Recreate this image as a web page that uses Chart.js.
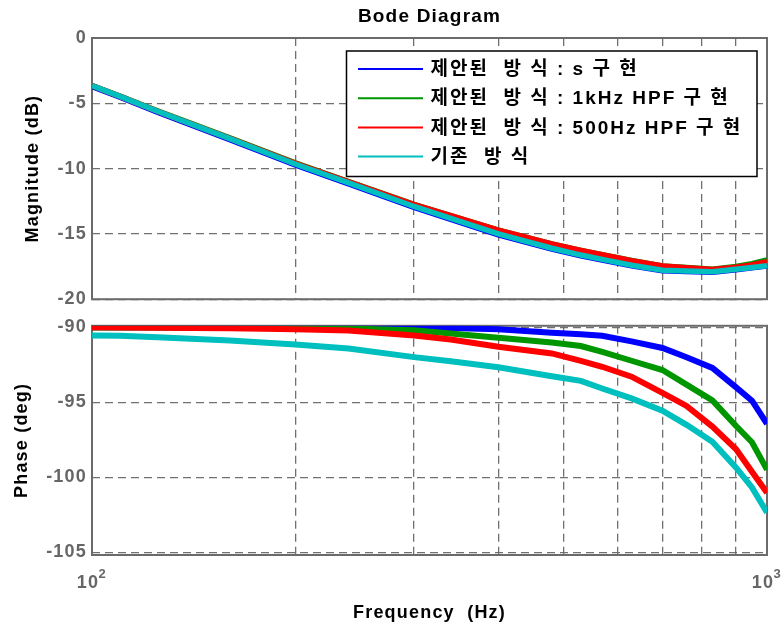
<!DOCTYPE html>
<html>
<head>
<meta charset="utf-8">
<script src="https://cdn.jsdelivr.net/npm/chart.js@4.4.1/dist/chart.umd.min.js"></script>
<style>
  html, body { margin: 0; padding: 0; background: #fff; }
  body { width: 783px; height: 629px; position: relative; overflow: hidden; }
  canvas { position: absolute; left: 0; }
  #mag { top: 0; }
  #phase { top: 310px; }
</style>
</head>
<body>
<canvas id="mag" width="783" height="315"></canvas>
<canvas id="phase" width="783" height="319"></canvas>
<script>
// Frequency grid (Hz) shared by all traces
const freqHz = [100, 110, 125, 160, 200, 240, 300, 340, 400, 480, 530, 570, 630, 700, 760, 830, 900, 950, 1000];

// Legend text for the four implementations
const seriesNames = [
  '제안된  방 식 : s 구 현',
  '제안된  방 식 : 1kHz HPF 구 현',
  '제안된  방 식 : 500Hz HPF 구 현',
  '기존  방 식'
];
const seriesColors = ['#0000ff', '#009600', '#ff0000', '#00bfbf'];

// Magnitude (dB)
const magS     = [-3.71, -4.53, -5.68, -7.78, -9.72, -11.17, -12.97, -13.88, -15.07, -16.17, -16.68, -17.00, -17.44, -17.82, -17.88, -17.93, -17.75, -17.60, -17.46];
const mag1k    = [-3.64, -4.45, -5.58, -7.65, -9.56, -11.00, -12.74, -13.60, -14.72, -15.77, -16.27, -16.60, -17.04, -17.45, -17.58, -17.70, -17.50, -17.28, -17.00];
const mag500   = [-3.65, -4.47, -5.61, -7.69, -9.60, -11.02, -12.75, -13.61, -14.72, -15.77, -16.27, -16.60, -17.05, -17.46, -17.60, -17.73, -17.56, -17.37, -17.13];
const magBase  = [-3.65, -4.47, -5.61, -7.71, -9.65, -11.10, -12.90, -13.81, -15.00, -16.10, -16.62, -16.95, -17.40, -17.79, -17.85, -17.90, -17.71, -17.57, -17.43];

// Phase (deg)
const phS      = [-90.00, -90.00, -90.00, -90.01, -90.01, -90.02, -90.03, -90.05, -90.13, -90.36, -90.46, -90.56, -90.94, -91.38, -92.00, -92.71, -94.00, -94.89, -96.43];
const ph1k     = [-90.01, -90.01, -90.02, -90.03, -90.05, -90.08, -90.20, -90.42, -90.69, -91.02, -91.25, -91.64, -92.23, -92.85, -93.82, -94.87, -96.58, -97.66, -99.49];
const ph500    = [-90.00, -90.01, -90.03, -90.07, -90.13, -90.22, -90.55, -90.82, -91.30, -91.74, -92.24, -92.63, -93.29, -94.37, -95.24, -96.62, -98.13, -99.63, -101.03];
const phBase   = [-90.55, -90.57, -90.67, -90.88, -91.15, -91.41, -91.99, -92.27, -92.66, -93.26, -93.57, -94.08, -94.74, -95.56, -96.50, -97.63, -99.36, -100.68, -102.35];

// Axis ticks and limits
const freqTicks  = [100, 200, 300, 400, 500, 600, 700, 800, 900, 1000];
const magTicks   = [0, -5, -10, -15, -20];
const phaseTicks = [-90, -95, -100, -105];
const magRange   = [-20, 0];
const phaseRange = [-105.18, -89.9];

const TEXT_FONT = '"Liberation Sans", Arial, sans-serif';
const TICK_COLOR = '#666666';
const GRID_COLOR = '#707070';

function toPoints(values) {
  return freqHz.map((f, i) => ({ x: f, y: values[i] }));
}

function makeDatasets(seriesList, width) {
  return seriesList.map((vals, i) => ({
    label: seriesNames[i],
    data: toPoints(vals),
    borderColor: seriesColors[i],
    backgroundColor: seriesColors[i],
    borderWidth: width,
    pointRadius: 0,
    tension: 0,
    fill: false,
    order: seriesList.length - i   // later series drawn on top
  }));
}

// Slightly widened text, applied to every label the charts draw
const textSpacing = {
  id: 'textSpacing',
  beforeUpdate(chart) { chart.ctx.letterSpacing = '1.2px'; },
  beforeDraw(chart) { chart.ctx.letterSpacing = '1.2px'; }
};

// Plot box around the data area
const frame = {
  id: 'frame',
  beforeDatasetsDraw(chart) {
    const { ctx, chartArea: a } = chart;
    ctx.save();
    ctx.setLineDash([]);
    ctx.strokeStyle = '#6b6b6b';
    ctx.lineWidth = 2;
    ctx.strokeRect(a.left, a.top, a.right - a.left, a.bottom - a.top);
    ctx.restore();
  }
};

// Boxed legend inside the magnitude plot, thin line samples
const boxedLegend = {
  id: 'boxedLegend',
  afterDatasetsDraw(chart) {
    const { ctx, chartArea: a } = chart;
    const left = a.left + 254.5, top = a.top + 13, w = 410.5, h = 125.5;
    ctx.save();
    ctx.setLineDash([]);
    ctx.fillStyle = '#ffffff';
    ctx.fillRect(left, top, w, h);
    ctx.strokeStyle = '#000000';
    ctx.lineWidth = 1.5;
    ctx.strokeRect(left, top, w, h);
    ctx.letterSpacing = '2px';
    ctx.font = 'bold 19px "Liberation Sans", "Noto Sans CJK KR", sans-serif';
    ctx.textBaseline = 'middle';
    ctx.textAlign = 'left';
    chart.data.datasets.forEach((ds, i) => {
      const y = top + 18 + i * 29.2;
      ctx.strokeStyle = ds.borderColor;
      ctx.lineWidth = 2;
      ctx.beginPath();
      ctx.moveTo(left + 11.5, y);
      ctx.lineTo(left + 76.5, y);
      ctx.stroke();
      ctx.fillStyle = '#000000';
      ctx.fillText(ds.label, left + 84, y + 1);
    });
    ctx.restore();
  }
};

// Decade labels (10 with a raised exponent) under the frequency axis
const decadeLabels = {
  id: 'decadeLabels',
  afterDraw(chart) {
    const s = chart.scales.x;
    const ctx = chart.ctx;
    ctx.save();
    ctx.fillStyle = TICK_COLOR;
    ctx.textBaseline = 'alphabetic';
    s.ticks.forEach(t => {
      const e = Math.log10(t.value);
      const p = Math.round(e);
      if (Math.abs(e - p) > 1e-9) return;
      const x = s.getPixelForValue(t.value);
      ctx.font = 'bold 18px ' + TEXT_FONT;
      ctx.textAlign = 'center';
      ctx.fillText('10', x - 4, s.top + 33);
      ctx.font = 'bold 13px ' + TEXT_FONT;
      ctx.textAlign = 'left';
      ctx.fillText(String(p), x + 6.5, s.top + 23);
    });
    ctx.restore();
  }
};

function xScale(showTitle) {
  return {
    type: 'logarithmic',
    min: 100,
    max: 1000,
    afterBuildTicks(s) { s.ticks = freqTicks.map(v => ({ value: v })); },
    afterFit(s) {
      s.height = showTitle ? 74 : 0;
      s.paddingLeft = 0;
      s.paddingRight = 0;
    },
    grid: { color: GRID_COLOR, lineWidth: 1.3, drawTicks: false },
    border: { display: false, dash: [8, 5] },
    ticks: { display: false, autoSkip: false },
    title: {
      display: showTitle,
      text: 'Frequency  (Hz)',
      color: '#000000',
      font: { family: TEXT_FONT, size: 18, weight: 'bold' },
      padding: { top: 0, bottom: 5 }
    }
  };
}

function yScale(range, tickValues, titleText, titlePad) {
  return {
    min: range[0],
    max: range[1],
    afterBuildTicks(s) { s.ticks = tickValues.map(v => ({ value: v })); },
    afterFit(s) { s.width = 92; },
    grid: { color: GRID_COLOR, lineWidth: 1.3, drawTicks: false },
    border: { display: false, dash: [8, 5] },
    ticks: {
      padding: 5,
      color: TICK_COLOR,
      font: { family: TEXT_FONT, size: 18, weight: 'bold' },
      callback(v) { return String(v); }
    },
    title: {
      display: true,
      text: titleText,
      color: '#000000',
      font: { family: TEXT_FONT, size: 18, weight: 'bold' },
      padding: { top: titlePad, bottom: 0 }
    }
  };
}

new Chart(document.getElementById('mag'), {
  type: 'line',
  data: { datasets: makeDatasets([magS, mag1k, mag500, magBase], 5.5) },
  options: {
    responsive: false,
    animation: false,
    devicePixelRatio: 1,
    layout: { padding: { left: 0, right: 16, top: 0, bottom: 12 } },
    plugins: {
      legend: { display: false },
      tooltip: { enabled: false },
      title: {
        display: true,
        text: 'Bode Diagram',
        fullSize: false,
        color: '#000000',
        font: { family: TEXT_FONT, size: 19, weight: 'bold' },
        padding: { top: 5, bottom: 10.2 }
      }
    },
    scales: {
      x: xScale(false),
      y: yScale(magRange, magTicks, 'Magnitude (dB)', 22.2)
    }
  },
  plugins: [textSpacing, frame, boxedLegend]
});

new Chart(document.getElementById('phase'), {
  type: 'line',
  data: { datasets: makeDatasets([phS, ph1k, ph500, phBase], 6) },
  options: {
    responsive: false,
    animation: false,
    devicePixelRatio: 1,
    layout: { padding: { left: 0, right: 16, top: 12, bottom: 0 } },
    plugins: {
      legend: { display: false },
      tooltip: { enabled: false }
    },
    scales: {
      x: xScale(true),
      y: yScale(phaseRange, phaseTicks, 'Phase (deg)', 11.2)
    }
  },
  plugins: [textSpacing, frame, decadeLabels]
});
</script>
</body>
</html>
